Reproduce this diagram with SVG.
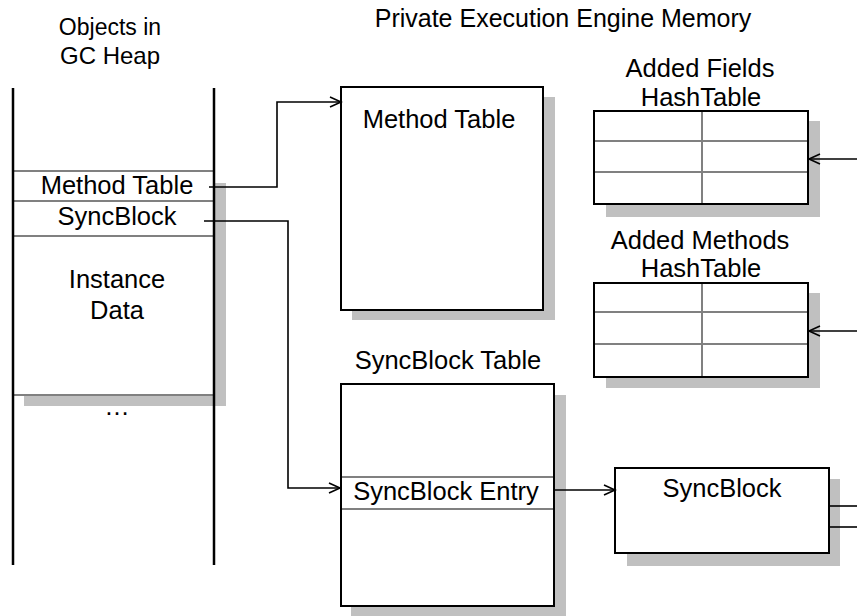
<svg xmlns="http://www.w3.org/2000/svg" width="857" height="616" viewBox="0 0 857 616">
<defs>
<marker id="arr" markerWidth="14" markerHeight="14" refX="12" refY="6" orient="auto" markerUnits="userSpaceOnUse">
<path d="M1,1 L12,6 L1,11" fill="none" stroke="#000" stroke-width="1.6"/>
</marker>
</defs>
<style>
text{font-family:"Liberation Sans",Arial,sans-serif;font-size:25.5px;fill:#000;text-anchor:middle}
.t{font-size:24px}
.box{fill:#fff;stroke:#000;stroke-width:2}
.sh{fill:#c0c0c0}
.gl{stroke:#808080;stroke-width:2}
.col{stroke:#000;stroke-width:2.5}
.con{fill:none;stroke:#000;stroke-width:1.6}
</style>
<rect width="857" height="616" fill="#fff"/>

<g id="titles">
<text class="t" x="110" y="35" style="font-size:23px">Objects in</text>
<text class="t" x="110" y="64">GC Heap</text>
<text class="t" x="563" y="27" style="font-size:25px">Private Execution Engine Memory</text>
</g>

<g id="gc-object">
<rect class="sh" x="24" y="183" width="202" height="223"/>
<rect x="13" y="171" width="201" height="224" fill="#fff"/>
<line class="gl" x1="13" y1="171" x2="214" y2="171"/>
<line class="gl" x1="13" y1="201" x2="214" y2="201"/>
<line class="gl" x1="13" y1="236" x2="214" y2="236"/>
<line class="gl" x1="13" y1="395" x2="214" y2="395"/>
<line class="col" x1="13" y1="88" x2="13" y2="565"/>
<line class="col" x1="214" y1="88" x2="214" y2="565"/>
<text x="117" y="194">Method Table</text>
<text x="117" y="225">SyncBlock</text>
<text x="117" y="288">Instance</text>
<text x="117" y="319">Data</text>
<text x="117" y="415">…</text>
</g>

<g id="method-table">
<rect class="sh" x="352" y="97" width="203" height="223"/>
<rect class="box" x="341" y="87" width="202" height="223"/>
<text x="439" y="128">Method Table</text>
</g>

<g id="added-fields">
<text x="700" y="77">Added Fields</text>
<text x="701" y="106">HashTable</text>
<rect class="sh" x="606" y="121" width="214" height="96"/>
<rect class="box" x="594" y="111" width="214" height="93"/>
<line class="gl" x1="595" y1="141" x2="807" y2="141"/>
<line class="gl" x1="595" y1="172" x2="807" y2="172"/>
<line class="gl" x1="702" y1="112" x2="702" y2="203"/>
</g>

<g id="added-methods">
<text x="700" y="249">Added Methods</text>
<text x="701" y="277">HashTable</text>
<rect class="sh" x="606" y="293" width="214" height="95"/>
<rect class="box" x="594" y="283" width="214" height="94"/>
<line class="gl" x1="595" y1="312" x2="807" y2="312"/>
<line class="gl" x1="595" y1="344" x2="807" y2="344"/>
<line class="gl" x1="702" y1="284" x2="702" y2="376"/>
</g>

<g id="syncblock-table">
<text x="448" y="369">SyncBlock Table</text>
<rect class="sh" x="351" y="395" width="215" height="221"/>
<rect class="box" x="341" y="384" width="213" height="222"/>
<line class="gl" x1="342" y1="477" x2="553" y2="477"/>
<line class="gl" x1="342" y1="509" x2="553" y2="509"/>
<text x="446" y="500">SyncBlock Entry</text>
</g>

<g id="syncblock">
<rect class="sh" x="627" y="479" width="213" height="87"/>
<rect class="box" x="615" y="468" width="214" height="85"/>
<text x="722" y="497">SyncBlock</text>
</g>

<g id="connectors">
<polyline class="con" points="209,187 277,187 277,102 341,102" marker-end="url(#arr)"/>
<polyline class="con" points="204,221 288,221 288,488 340,488" marker-end="url(#arr)"/>
<line class="con" x1="554" y1="490" x2="615" y2="490" marker-end="url(#arr)"/>
<line class="con" x1="857" y1="159" x2="809" y2="159" marker-end="url(#arr)"/>
<line class="con" x1="857" y1="331" x2="809" y2="331" marker-end="url(#arr)"/>
<line class="con" x1="829" y1="506" x2="857" y2="506"/>
<line class="con" x1="829" y1="527" x2="857" y2="527"/>
</g>
</svg>
